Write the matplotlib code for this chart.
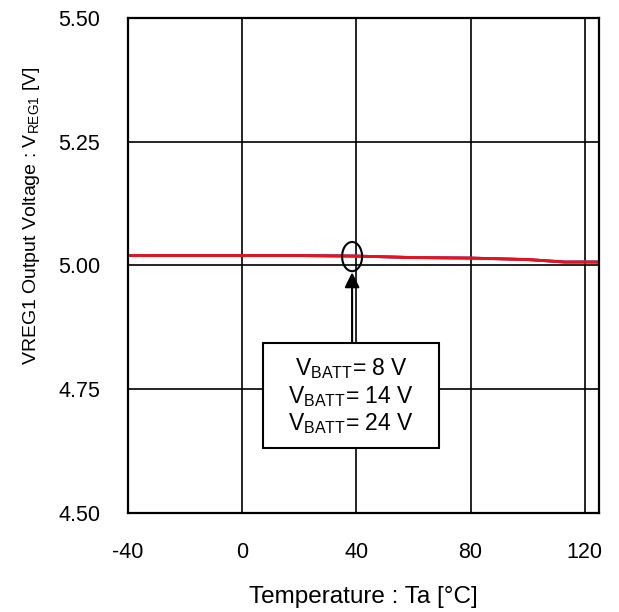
import matplotlib.pyplot as plt
from matplotlib.patches import Ellipse, Rectangle

plt.rcParams['font.family'] = ['Liberation Sans', 'DejaVu Sans']
plt.rcParams['mathtext.default'] = 'regular'
plt.rcParams['axes.unicode_minus'] = False

# temperature [degC]
temps = [-40, -20, 0, 20, 40, 60, 80, 100, 113, 125]
# VREG1 output voltage [V] for each VBATT
v_8v = [5.020, 5.020, 5.020, 5.020, 5.019, 5.016, 5.015, 5.012, 5.007, 5.007]
v_14v = [5.020, 5.020, 5.020, 5.020, 5.019, 5.016, 5.015, 5.012, 5.007, 5.007]
v_24v = [5.020, 5.020, 5.020, 5.020, 5.019, 5.016, 5.015, 5.012, 5.007, 5.007]

x_ticks = [-40, 0, 40, 80, 120]
y_ticks = [4.50, 4.75, 5.00, 5.25, 5.50]
legend_labels = ['8 V', '14 V', '24 V']

fig = plt.figure(figsize=(6.19, 6.12), dpi=100)
ax = fig.add_axes([0.2068, 0.1618, 0.7609, 0.8088])

ax.plot(temps, v_8v, color='#1f3fbf', lw=2.0)
ax.plot(temps, v_14v, color='#8a3a9a', lw=2.0)
ax.plot(temps, v_24v, color='#ee1111', lw=2.0)

ax.set_xlim(-40, 125)
ax.set_ylim(4.5, 5.5)
ax.set_xticks(x_ticks)
ax.set_yticks(y_ticks)
ax.set_yticklabels([f"{v:.2f}" for v in y_ticks])
ax.tick_params(length=0, labelsize=15.5)
ax.tick_params(axis='x', pad=21)
ax.tick_params(axis='y', pad=20)

# grid lines (right spine at 125 plus the 120 line)
for x in [0, 40, 80, 120]:
    ax.axvline(x, color='black', lw=1.2, zorder=1)
for y in [4.75, 5.00, 5.25]:
    ax.axhline(y, color='black', lw=1.2, zorder=1)
for sp in ax.spines.values():
    sp.set_linewidth(1.6)

# ellipse marking the curves and arrow from label box
ax.add_patch(Ellipse((38.5, 5.018), 7.0, 0.059, fill=False, ec='black', lw=1.5, zorder=5))
ax.annotate('', xy=(38.5, 4.986), xytext=(38.5, 4.843),
            arrowprops=dict(arrowstyle='-|>,head_length=0.9,head_width=0.45',
                            color='black', lw=1.5, shrinkA=0, shrinkB=0), zorder=5)

ax.add_patch(Rectangle((7.4, 4.631), 61.4, 0.212, fc='white', ec='black', lw=1.5, zorder=6))
for i, lab in enumerate(legend_labels):
    ax.text(38.2, 4.791 - i * 0.0555, r'V$_{BATT}$= ' + lab, ha='center', va='center',
            fontsize=16.5, zorder=7)

fig.text(363 / 619, 1 - 597 / 612, 'Temperature : Ta [°C]', ha='center', va='center', fontsize=17.5)
fig.text(32 / 619, 1 - 216 / 612, r'VREG1 Output Voltage : V$_{REG1}$ [V]', ha='center', va='center',
         rotation=90, fontsize=14)

fig.savefig('out.png', dpi=100)
